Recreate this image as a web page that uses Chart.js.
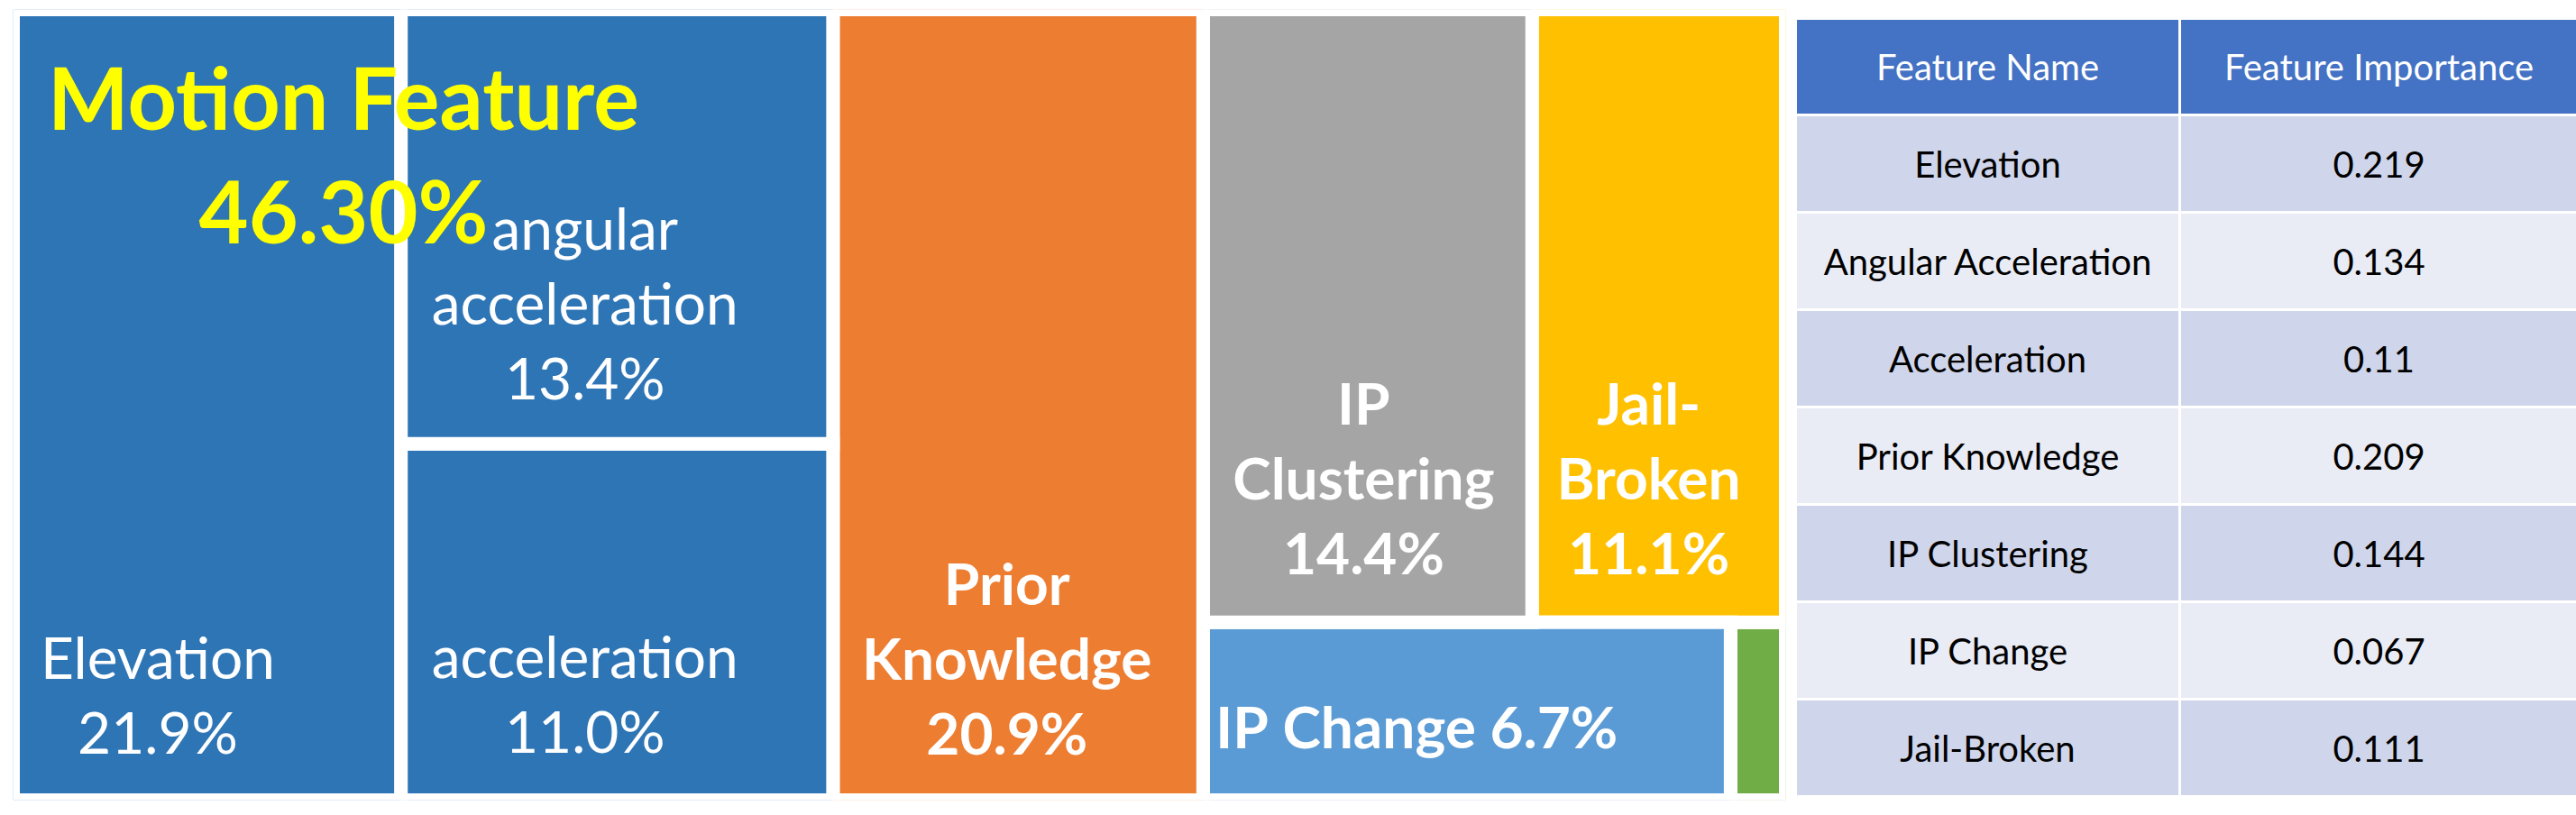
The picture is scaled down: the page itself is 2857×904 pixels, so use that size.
<!DOCTYPE html>
<html>
<head>
<meta charset="utf-8">
<title>Feature importance treemap</title>
<script src="https://cdn.jsdelivr.net/npm/chart.js@4.4.0/dist/chart.umd.min.js"></script>
<style>
  html, body { margin:0; padding:0; background:#fff; }
  body { width:2857px; height:904px; position:relative; overflow:hidden; font-family:Lato, 'Noto Sans', sans-serif; }
  #mapWrap { position:absolute; left:0; top:0; width:1990px; height:904px; }
  #featTable { position:absolute; left:1993px; top:22px; display:grid;
    grid-template-columns:423px 439px; grid-template-rows:104px repeat(7, 105px); gap:3px; background:#fff; }
  #featTable div { display:flex; align-items:center; justify-content:center; font-size:40px; color:#000; }
  #featTable .hd { background:#4472C4; color:#fff; }
  #featTable .dk { background:#CFD5EA; }
  #featTable .lt { background:#E9EBF5; }
</style>
</head>
<body>
<div id="mapWrap"><canvas id="treeMap"></canvas></div>
<div id="featTable"></div>
<script>
// feature importance data (table + treemap)
const featureNames = ['Elevation', 'Angular Acceleration', 'Acceleration', 'Prior Knowledge', 'IP Clustering', 'IP Change', 'Jail-Broken'];
const importance = [0.219, 0.134, 0.11, 0.209, 0.144, 0.067, 0.111];
const otherShare = 0.007; // small unlabeled green block
const tableHeaders = ['Feature Name', 'Feature Importance'];

// treemap labels (same order as importance, plus the unlabeled block)
const mapLabels = ['Elevation', 'angular\nacceleration', 'acceleration', 'Prior\nKnowledge', 'IP\nClustering', 'IP Change', 'Jail-\nBroken', ''];
const mapValues = importance.concat([otherShare]);
const groupName = 'Motion Feature';
const groupMembers = [0, 1, 2];

// layout tree: columns -> rows -> item indexes (sizes come from values)
const layoutColumns = [[[0]], [[1], [2]], [[3]], [[4, 6], [5, 7]]];

// styles
const mapColors = ['#2E75B6', '#2E75B6', '#2E75B6', '#ED7D31', '#A5A5A5', '#5B9BD5', '#FFC000', '#70AD47'];
// fx: label centre across the cell, fy: baseline of last line down the cell
const labelStyle = [
  {bold:false, fx:0.373, fy:0.941},
  {bold:false, fx:0.426, fy:0.897},
  {bold:false, fx:0.426, fy:0.866},
  {bold:true,  fx:0.470, fy:0.942},
  {bold:true,  fx:0.488, fy:0.921},
  {bold:true,  fx:0.405, fy:0.71, inline:true},
  {bold:true,  fx:0.460, fy:0.921},
  null
];
const groupStyle = {fx:0.403, fy:[0.152, 0.296], color:'#FFFF00', size:95};
const LABEL_SIZE = 64, LINE_H = 83, GAP = 15;

// build table
const tbl = document.getElementById('featTable');
function cell(txt, cls){ const d = document.createElement('div'); d.className = cls; d.textContent = txt; tbl.appendChild(d); }
tableHeaders.forEach(h => cell(h, 'hd'));
featureNames.forEach((n, i) => {
  const cls = i % 2 === 0 ? 'dk' : 'lt';
  cell(n, cls); cell(String(importance[i]), cls);
});

// slice layout in 0..100 units
function buildRects(){
  const total = mapValues.reduce((a, b) => a + b, 0);
  const rects = [];
  let x = 0;
  for(const col of layoutColumns){
    const colSum = col.flat().reduce((a, i) => a + mapValues[i], 0);
    const w = colSum / total * 100;
    let y = 0;
    for(const row of col){
      const rowSum = row.reduce((a, i) => a + mapValues[i], 0);
      const h = rowSum / colSum * 100;
      let rx = x;
      for(const i of row){
        const iw = mapValues[i] / rowSum * w;
        rects[i] = {x0:rx, x1:rx + iw, y0:y, y1:y + h};
        rx += iw;
      }
      y += h;
    }
    x += w;
  }
  return rects;
}
const rects = buildRects();

const datasets = rects.map((r, i) => ({
  data: [{x:r.x0, y:r.y0}, {x:r.x1, y:r.y0}, {x:r.x1, y:r.y1}, {x:r.x0, y:r.y1}, {x:r.x0, y:r.y0}],
  fill: 'shape',
  backgroundColor: mapColors[i],
  borderColor: '#fff',
  borderWidth: GAP,
  borderJoinStyle: 'miter',
  borderCapStyle: 'square',
  pointRadius: 0,
  pointHitRadius: 0,
  tension: 0
}));

const pct = v => (v * 100).toFixed(1) + '%';

const labelPlugin = {
  id: 'mapLabels',
  afterDatasetsDraw(chart){
    const {ctx, scales:{x:xs, y:ys}} = chart;
    ctx.save();
    ctx.fillStyle = '#fff';
    ctx.textAlign = 'center';
    ctx.textBaseline = 'alphabetic';
    rects.forEach((r, i) => {
      const st = labelStyle[i];
      if(!st || !mapLabels[i]) return;
      const px0 = xs.getPixelForValue(r.x0), px1 = xs.getPixelForValue(r.x1);
      const py0 = ys.getPixelForValue(r.y0), py1 = ys.getPixelForValue(r.y1);
      const cx = px0 + (px1 - px0) * st.fx;
      const by = py0 + (py1 - py0) * st.fy;
      const lines = st.inline ? [mapLabels[i] + ' ' + pct(mapValues[i])] : mapLabels[i].split('\n').concat([pct(mapValues[i])]);
      ctx.font = (st.bold ? 'bold ' : '') + LABEL_SIZE + 'px Lato, "Noto Sans", sans-serif';
      lines.forEach((ln, k) => ctx.fillText(ln, cx, by - (lines.length - 1 - k) * LINE_H));
    });
    // group overlay
    const gx0 = Math.min(...groupMembers.map(i => rects[i].x0)), gx1 = Math.max(...groupMembers.map(i => rects[i].x1));
    const gy0 = Math.min(...groupMembers.map(i => rects[i].y0)), gy1 = Math.max(...groupMembers.map(i => rects[i].y1));
    const qx0 = xs.getPixelForValue(gx0), qx1 = xs.getPixelForValue(gx1);
    const qy0 = ys.getPixelForValue(gy0), qy1 = ys.getPixelForValue(gy1);
    const groupPct = (groupMembers.reduce((a, i) => a + mapValues[i], 0) * 100).toFixed(2) + '%';
    ctx.fillStyle = groupStyle.color;
    ctx.font = 'bold ' + groupStyle.size + 'px Lato, "Noto Sans", sans-serif';
    const gcx = qx0 + (qx1 - qx0) * groupStyle.fx;
    ctx.fillText(groupName, gcx, qy0 + (qy1 - qy0) * groupStyle.fy[0]);
    ctx.fillText(groupPct, gcx, qy0 + (qy1 - qy0) * groupStyle.fy[1]);
    ctx.restore();
  }
};

new Chart(document.getElementById('treeMap'), {
  type: 'line',
  data: {datasets},
  options: {
    responsive: true,
    maintainAspectRatio: false,
    animation: false,
    events: [],
    layout: {padding: {left:14.5, right:9.5, top:10.5, bottom:16.5}},
    scales: {
      x: {type:'linear', min:0, max:100, display:false},
      y: {type:'linear', min:0, max:100, reverse:true, display:false}
    },
    plugins: {legend: {display:false}, tooltip: {enabled:false}}
  },
  plugins: [labelPlugin]
});
</script>
</body>
</html>
